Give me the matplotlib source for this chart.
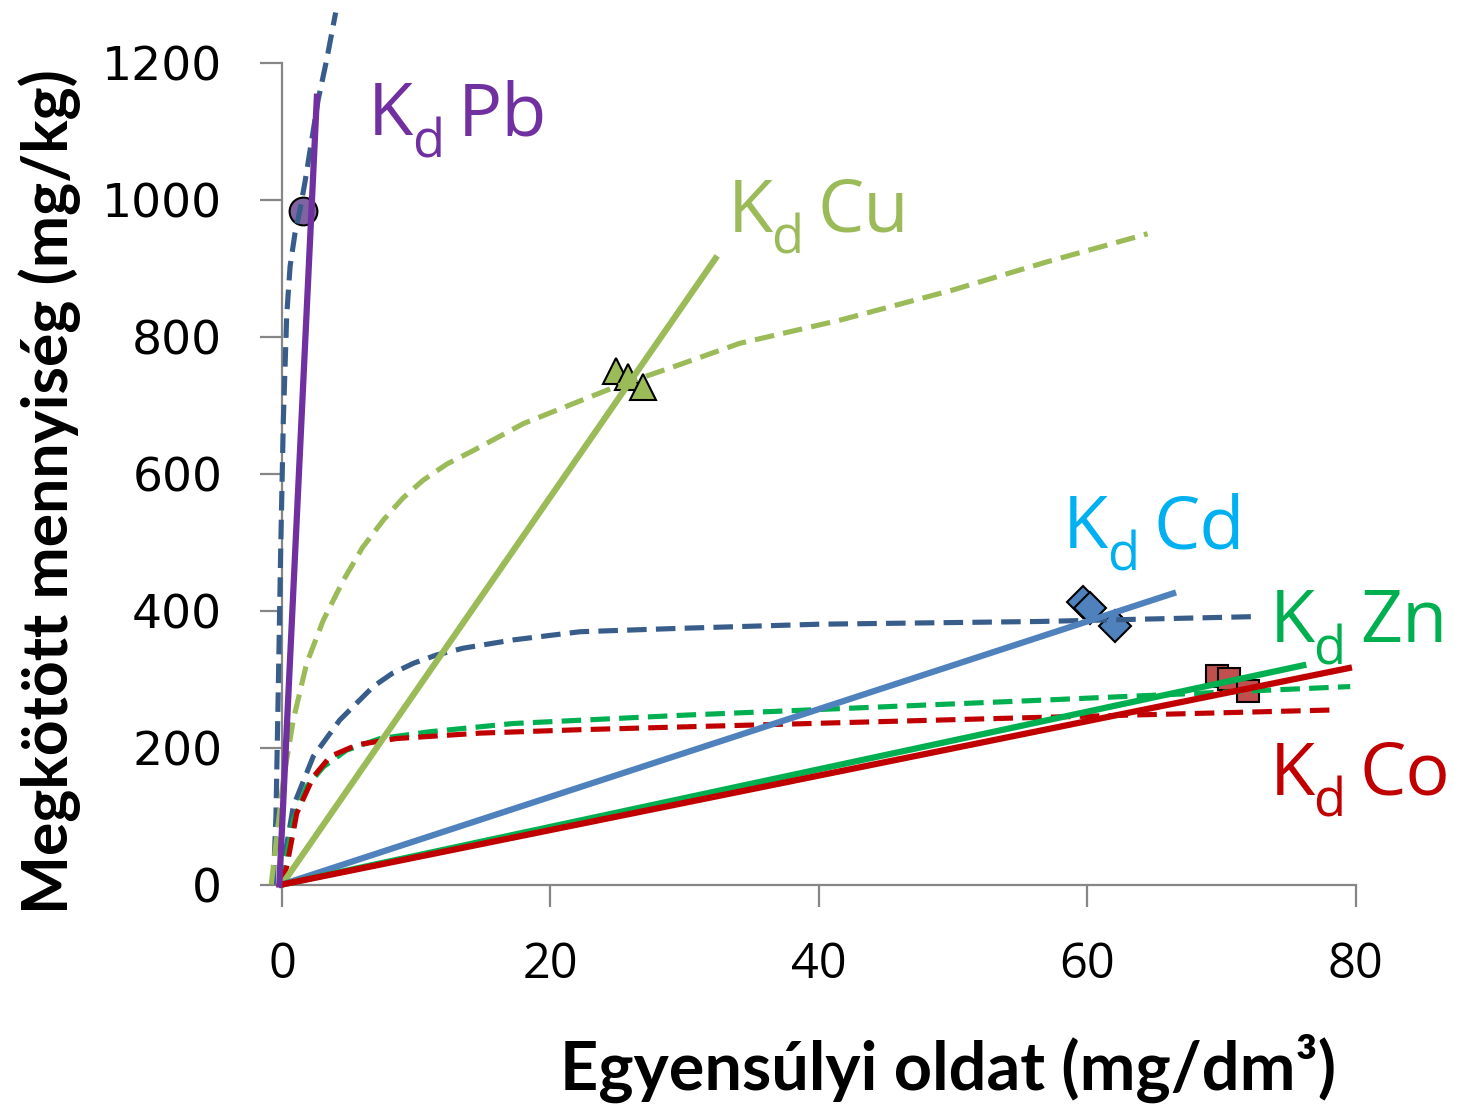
import matplotlib
matplotlib.use("Agg")
import matplotlib.pyplot as plt
from matplotlib import font_manager

plt.rcParams['font.family'] = ['Open Sans', 'DejaVu Sans']

# measured points
pb_x = [1.56]
pb_y = [983]
cu_x = [24.9, 25.8, 26.9]
cu_y = [749, 741, 727]
cd_x = [59.7, 60.2, 62.1]
cd_y = [412, 403, 378]
co_x = [69.7, 70.6, 72.0]
co_y = [305, 300, 283]

# Kd lines (solid)
kd_pb_x = [-0.2, 2.6]
kd_pb_y = [0, 1150]
kd_cu_x = [0, 32.3]
kd_cu_y = [0, 914]
kd_cd_x = [0, 66.4]
kd_cd_y = [0, 425]
kd_zn_x = [0, 76.1]
kd_zn_y = [0, 320]
kd_co_x = [0, 79.5]
kd_co_y = [0, 316]

# isotherm fits (dashed)
pb_fit_x = [-0.65, -0.45, -0.27, -0.1, 0.1, 0.35, 0.6, 0.97, 1.34, 1.7, 2.7, 3.33, 4.0]
pb_fit_y = [0, 100, 293, 486, 678, 830, 902, 951, 985, 1024, 1146, 1204, 1273]
cu_fit_x = [-0.8, 0.1, 0.84, 1.84, 3.08, 4.57, 6.0, 7.55, 9.0, 10.5, 12.3, 14.3, 18.0, 21.7, 24.9, 29.2, 34.1, 41.6, 50, 57, 64.5]
cu_fit_y = [0, 153, 240, 323, 386, 444, 492, 532, 564, 590, 614, 634, 673, 702, 727, 756, 790, 824, 868, 909, 950]
cd_fit_x = [-0.15, 0.84, 2.33, 4.3, 6.8, 8.2, 9.8, 11.5, 13.5, 17.2, 22.2, 29.7, 40, 56.5, 72.3]
cd_fit_y = [0, 114, 187, 240, 289, 308, 323, 335, 345, 357, 369, 374, 380, 384, 391]
zn_fit_x = [-0.1, 0.1, 0.84, 1.84, 3.1, 4.8, 7.3, 11.0, 17.2, 29.7, 56.5, 79.6]
zn_fit_y = [0, 16, 94, 143, 172, 196, 213, 223, 235, 247, 269, 289]
co_fit_x = [0, 0.35, 1.1, 2.33, 3.6, 5.6, 8.5, 14.75, 22.2, 29.7, 56.5, 78.7]
co_fit_y = [0, 26, 104, 157, 187, 204, 213, 221, 226, 230, 244, 255]

labels = ['Pb', 'Cu', 'Cd', 'Zn', 'Co']
label_x = [6.4, 33.2, 58.2, 73.6, 73.6]
label_y = [1094, 953, 491, 354, 131]
label_col = ['#7030a0', '#9bbb59', '#00b0f0', '#00b050', '#c00000']

fig = plt.figure(figsize=(14.6, 11.1), dpi=100)
ax = fig.add_axes([0.17936, 0.19698, 0.75832, 0.80284])
ax.set_xlim(-1.5, 81)
ax.set_ylim(-10, 1291)

# markers first, lines on top
ax.plot(pb_x, pb_y, 'o', ms=20, mfc='#8064a2', mec='black', mew=1.5, zorder=2)
ax.plot(cu_x, cu_y, '^', ms=19, mfc='#9bbb59', mec='black', mew=1.5, zorder=2)
ax.plot(cd_x, cd_y, 'D', ms=16, mfc='#4f81bd', mec='black', mew=1.5, zorder=2)
ax.plot(co_x, co_y, 's', ms=16, mfc='#c0504d', mec='black', mew=1.5, zorder=2)

dash = (0, (3.8, 1.8))
ax.plot(pb_fit_x, pb_fit_y, color='#385d8a', lw=3.7, ls=dash, zorder=3)
ax.plot(cu_fit_x, cu_fit_y, color='#9bbb59', lw=3.7, ls=dash, zorder=3)
ax.plot(cd_fit_x, cd_fit_y, color='#385d8a', lw=3.7, ls=dash, zorder=3)
ax.plot(zn_fit_x, zn_fit_y, color='#00b050', lw=3.7, ls=dash, zorder=3)
ax.plot(co_fit_x, co_fit_y, color='#c00000', lw=3.7, ls=dash, zorder=3)

ax.plot(kd_cu_x, kd_cu_y, color='#9bbb59', lw=4.5, zorder=4)
ax.plot(kd_cd_x, kd_cd_y, color='#4f81bd', lw=4.5, zorder=4)
ax.plot(kd_zn_x, kd_zn_y, color='#00b050', lw=4.5, zorder=4)
ax.plot(kd_co_x, kd_co_y, color='#c00000', lw=4.5, zorder=4)
ax.plot(kd_pb_x, kd_pb_y, color='#7030a0', lw=4.5, zorder=4)

# "K", subscript "d", then the element, offsets in points
for name, lx, ly, c in zip(labels, label_x, label_y, label_col):
    ax.annotate('K', (lx, ly), color=c, fontsize=53, ha='left', va='baseline',
                annotation_clip=False)
    ax.annotate('d', (lx, ly), xytext=(31.5, -16), textcoords='offset points',
                color=c, fontsize=38, ha='left', va='baseline', annotation_clip=False)
    ax.annotate(name, (lx, ly), xytext=(65, 0), textcoords='offset points',
                color=c, fontsize=53, ha='left', va='baseline', annotation_clip=False)

for s in ['top', 'right']:
    ax.spines[s].set_visible(False)
ax.spines['left'].set_position(('data', 0))
ax.spines['bottom'].set_position(('data', 0))
ax.spines['left'].set_bounds(0, 1200)
ax.spines['bottom'].set_bounds(0, 80)
for s in ['left', 'bottom']:
    ax.spines[s].set_color('#868686')
    ax.spines[s].set_linewidth(1.6)

ax.set_xticks([0, 20, 40, 60, 80])
ax.set_yticks([0, 200, 400, 600, 800, 1000, 1200])
ax.tick_params(direction='out', length=16, width=1.6, color='#868686')
ax.tick_params(axis='y', pad=27)
ax.tick_params(axis='x', pad=24)
for t in ax.get_yticklabels():
    t.set_fontfamily('DejaVu Sans')
    t.set_fontsize(34)
for t in ax.get_xticklabels():
    t.set_fontfamily('Open Sans')
    t.set_fontsize(35)

names = {f.name for f in font_manager.fontManager.ttflist}
ylab_font = 'Lato'
for cand in ['Liberation Sans Narrow', 'DejaVu Sans Condensed']:
    if cand in names:
        ylab_font = cand
        break

fig.text(50 / 1460, 1 - 492 / 1110, 'Megkötött mennyiség (mg/kg)', rotation=90,
         ha='center', va='center', fontsize=45, fontweight='bold', family=ylab_font)
fig.text(948 / 1460, 1 - 1090 / 1110, 'Egyensúlyi oldat (mg/dm³)',
         ha='center', va='baseline', fontsize=48, fontweight='bold', family='Lato')

fig.savefig('out.png', dpi=100)
